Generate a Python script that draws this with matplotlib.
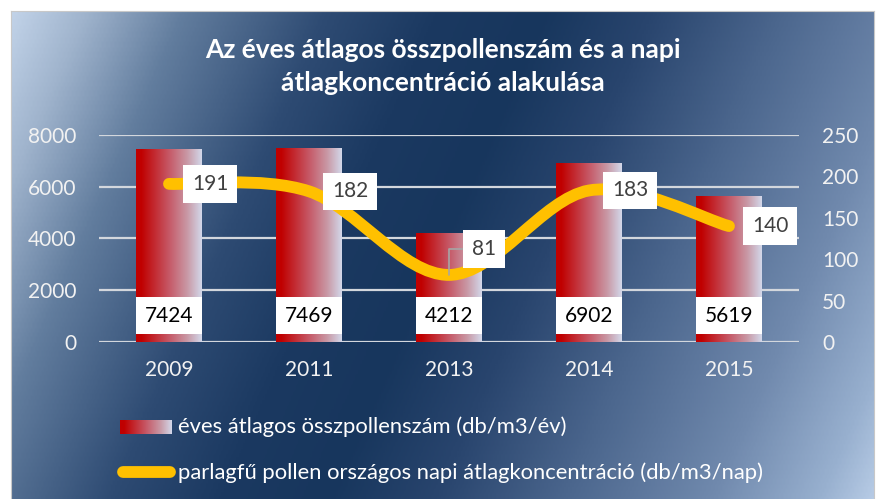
import numpy as np
import matplotlib
matplotlib.use("Agg")
import matplotlib.pyplot as plt
from matplotlib.colors import LinearSegmentedColormap
from matplotlib.lines import Line2D
from matplotlib.patches import PathPatch
from matplotlib.path import Path

# data
years = ["2009", "2011", "2013", "2014", "2015"]
pollen_total = [7424, 7469, 4212, 6902, 5619]     # db/m3/év  (left axis)
ragweed_daily = [191, 182, 81, 183, 140]          # db/m3/nap (right axis)
left_ticks = [0, 2000, 4000, 6000, 8000]
right_ticks = [0, 50, 100, 150, 200, 250]

title_lines = ["Az éves átlagos összpollenszám és a napi",
               "átlagkoncentráció alakulása"]
leg_bar = "éves átlagos összpollenszám (db/m3/év)"
leg_line = "parlagfű pollen országos napi átlagkoncentráció (db/m3/nap)"

W, H = 878, 499
TXT = "#f2f2f2"
YELLOW = "#ffc000"
FS = 15

plt.rcParams["font.family"] = ["Lato", "DejaVu Sans"]

bg_cmap = LinearSegmentedColormap.from_list("bg", [
    (0.00, "#c8d9ee"), (0.08, "#a0b4cd"), (0.17, "#627d9e"),
    (0.30, "#2e4b73"), (0.40, "#1b3961"), (0.50, "#17365d"),
    (0.60, "#29456e"), (0.72, "#4c678e"), (0.85, "#7089ad"),
    (0.95, "#98b0cf"), (1.00, "#b8cce6")])
bar_cmap = LinearSegmentedColormap.from_list("bar", [
    (0.00, "#c00000"), (0.08, "#c00000"), (0.50, "#c65866"),
    (0.78, "#c999a6"), (1.00, "#d3d8ea")])


def fx(px):
    return px / W


def fy(py):
    return 1 - py / H


fig = plt.figure(figsize=(W / 100, H / 100), dpi=100, facecolor="white")

# ── background gradient ──
bg = fig.add_axes([fx(11), 0, fx(874) - fx(11), fy(11)])
gx, gy = np.meshgrid(np.linspace(11, 874, 400), np.linspace(11, 499, 240))
bg.imshow((0.914 * gx + 0.406 * gy) / 1005, cmap=bg_cmap, vmin=0, vmax=1,
          aspect="auto", extent=[0, 1, 0, 1], interpolation="bilinear")
bg.set_xticks([])
bg.set_yticks([])
for side in ("left", "top", "right"):
    bg.spines[side].set_color("#c8c8c8")
bg.spines["bottom"].set_visible(False)

# ── plot area ──
ax = fig.add_axes([fx(99), fy(342), fx(799) - fx(99), (342 - 135) / H])
ax.patch.set_visible(False)
ax2 = ax.twinx()

x = np.arange(len(years))
bars = ax.bar(x, pollen_total, width=0.47, color="none", zorder=2)
ramp = np.linspace(0, 1, 256).reshape(1, -1)
for b, v in zip(bars, pollen_total):
    ax.imshow(ramp, cmap=bar_cmap, aspect="auto", zorder=2,
              extent=[b.get_x(), b.get_x() + b.get_width(), 0, b.get_height()])
    ax.annotate(f"{v}", xy=(b.get_x() + b.get_width() / 2, 0),
                xytext=(0, 19), textcoords="offset points",
                ha="center", va="center", fontsize=FS, color="black", zorder=5,
                bbox=dict(boxstyle="square,pad=0.42", fc="white", ec="none"))

ax.set_xlim(-0.5, len(years) - 0.5)
ax.set_ylim(0, 8000)
ax.set_yticks(left_ticks)
ax.set_xticks(x, years)
ax.yaxis.grid(True, color="#d3d7dd", lw=1.6)
ax.set_axisbelow(True)
ax.tick_params(axis="y", length=0, pad=16.5, labelsize=FS, labelcolor=TXT)
ax.tick_params(axis="x", length=0, pad=13, labelsize=FS, labelcolor=TXT)

# smoothed line (Bezier through the data points)
pts = np.column_stack([x, ragweed_daily]).astype(float)
ext = np.vstack([pts[0], pts, pts[-1]])
verts, codes = [tuple(pts[0])], [Path.MOVETO]
for i in range(len(pts) - 1):
    p0, p1, p2, p3 = ext[i], ext[i + 1], ext[i + 2], ext[i + 3]
    verts += [tuple(p1 + (p2 - p0) / 6), tuple(p2 - (p3 - p1) / 6), tuple(p2)]
    codes += [Path.CURVE4] * 3
ax2.add_patch(PathPatch(Path(verts, codes), fill=False, ec=YELLOW, lw=8.5,
                        capstyle="round", joinstyle="round", zorder=3))

for i, v in enumerate(ragweed_daily):
    kw = dict(xytext=(29.5, 0))
    if v == min(ragweed_daily):
        kw = dict(xytext=(25, 18.7),
                  arrowprops=dict(arrowstyle="-", color="#a6a6a6", lw=1.2,
                                  shrinkA=0, shrinkB=0,
                                  connectionstyle="angle,angleA=0,angleB=90"))
    ax2.annotate(f"{v}", xy=(i, v), textcoords="offset points",
                 ha="center", va="center", fontsize=FS, color="#404040",
                 zorder=6,
                 bbox=dict(boxstyle="square,pad=0.42", fc="white", ec="none"),
                 **kw)

ax2.set_ylim(0, 250)
ax2.set_yticks(right_ticks)
ax2.tick_params(axis="y", length=0, pad=16.5, labelsize=FS, labelcolor=TXT)
for a in (ax, ax2):
    for s in a.spines.values():
        s.set_visible(False)

# ── title ──
fig.text(fx(442.5), fy(58), title_lines[0], ha="center", va="baseline",
         fontsize=19, fontweight="bold", color="white")
fig.text(fx(442.5), fy(91), title_lines[1], ha="center", va="baseline",
         fontsize=19, fontweight="bold", color="white")

# ── legend ──
sw = fig.add_axes([fx(120), fy(434), fx(172) - fx(120), 14 / H])
sw.imshow(ramp, cmap=bar_cmap, aspect="auto")
sw.axis("off")
fig.add_artist(Line2D([fx(123), fx(170)], [fy(472), fy(472)], color=YELLOW,
                      lw=8.5, solid_capstyle="round",
                      transform=fig.transFigure))
fig.text(fx(178), fy(427), leg_bar, ha="left", va="center",
         fontsize=15.8, color="white")
fig.text(fx(178), fy(473), leg_line, ha="left", va="center",
         fontsize=15.8, color="white")

fig.savefig("out.png", dpi=100, facecolor=fig.get_facecolor())
